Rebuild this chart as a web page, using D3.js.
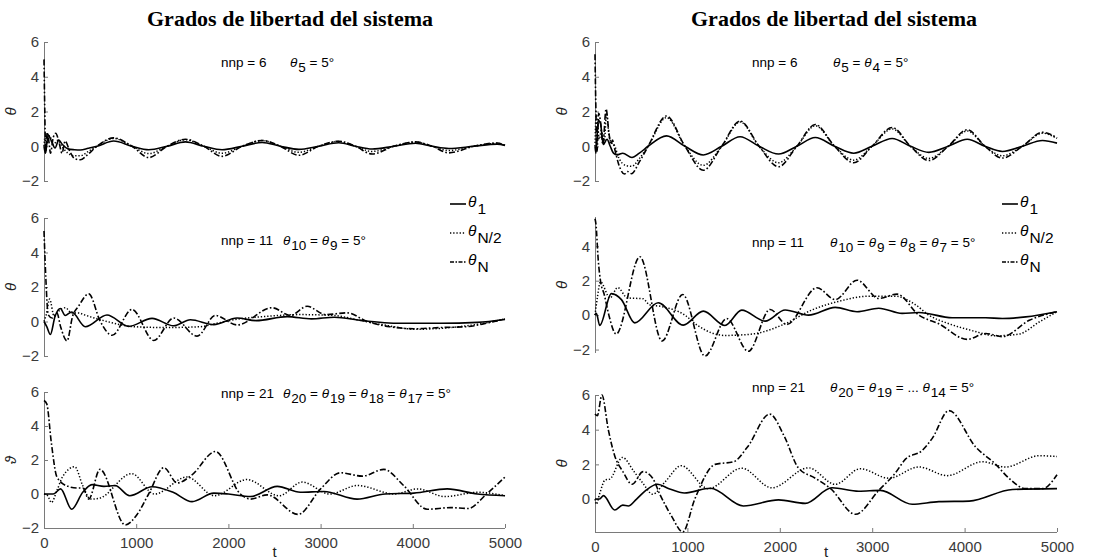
<!DOCTYPE html>
<html>
<head>
<meta charset="utf-8">
<script src="https://cdn.jsdelivr.net/npm/d3@7"></script>
<style>
  body { margin: 0; background: #fff; }
  svg { display: block; }
  text { white-space: pre; }
</style>
</head>
<body>
<div id="chart"></div>
<script>
// ---- data: [t, theta] pairs ----
const tTicks = [0, 1000, 2000, 3000, 4000, 5000];
const titleText = "Grados de libertad del sistema";
const legendLabels = ["1", "N/2", "N"];

// nnp = 6, theta5 = 5
const p1Theta1 = [[0,0],[15,-0.4],[45,0.65],[80,0.3],[120,-0.1],[160,0.35],[200,0.1],[260,-0.15],[330,-0.2],[394,-0.22],[480,-0.12],[575,0],[756,0.3],[955,0],[1136,-0.2],[1335,0],[1534,0.25],[1733,0],[1931,-0.2],[2148,0],[2366,0.22],[2564,0],[2763,-0.18],[2980,0],[3197,0.2],[3378,0],[3559,-0.16],[3794,0],[4029,0.17],[4210,0],[4391,-0.13],[4662,0],[4915,0.12],[5000,0.05]];
const p1ThetaHalf = [[0,0],[10,0.5],[30,0.15],[60,0.6],[100,0.1],[150,0.35],[200,-0.05],[260,-0.4],[330,-0.55],[394,-0.55],[480,-0.3],[575,0],[756,0.45],[955,0],[1136,-0.42],[1335,0],[1534,0.38],[1733,0],[1931,-0.4],[2148,0],[2366,0.33],[2564,0],[2763,-0.35],[2980,0],[3197,0.28],[3378,0],[3559,-0.3],[3794,0],[4029,0.24],[4210,0],[4391,-0.25],[4662,0],[4915,0.17],[5000,0.05]];
const p1ThetaN = [[0,5.0],[8,2.2],[18,-0.4],[35,0.8],[55,0.2],[70,-0.4],[100,0.5],[127,0.75],[160,0.3],[195,-0.4],[230,0.3],[280,-0.3],[333,-0.72],[394,-0.78],[470,-0.5],[575,0],[756,0.48],[955,0],[1136,-0.65],[1335,0],[1534,0.4],[1733,0],[1931,-0.58],[2148,0],[2366,0.33],[2564,0],[2763,-0.52],[2980,0],[3197,0.29],[3378,0],[3559,-0.45],[3794,0],[4029,0.25],[4210,0],[4391,-0.38],[4662,0],[4915,0.19],[5000,0.05]];

// nnp = 6, theta5 = theta4 = 5
const p2Theta1 = [[0,0],[10,-0.4],[35,1.5],[60,1.3],[90,0.1],[130,0.4],[165,0],[200,-0.4],[240,-0.5],[300,-0.4],[400,-0.65],[480,-0.4],[575,0],[774,0.6],[973,0],[1172,-0.5],[1371,0],[1570,0.55],[1776,0],[1986,-0.45],[2185,0],[2384,0.5],[2593,0],[2800,-0.4],[2998,0],[3216,0.45],[3414,0],[3613,-0.35],[3823,0],[4029,0.4],[4221,0],[4409,-0.3],[4626,0],[4843,0.33],[5000,0.18]];
const p2ThetaHalf = [[0,0],[12,1.8],[25,1.6],[45,0.4],[70,0.9],[100,0.2],[125,1.9],[150,0.7],[175,0.2],[205,0.1],[260,-0.7],[330,-1.1],[400,-1.15],[480,-0.7],[575,0],[774,1.65],[973,0],[1172,-1.1],[1371,0],[1570,1.4],[1776,0],[1986,-0.95],[2185,0],[2384,1.18],[2593,0],[2800,-0.8],[2998,0],[3216,1.0],[3414,0],[3613,-0.7],[3823,0],[4029,0.88],[4221,0],[4409,-0.55],[4626,0],[4843,0.75],[5000,0.45]];
const p2ThetaN = [[0,5.3],[10,2.0],[22,-0.3],[40,1.9],[60,1.4],[85,0.1],[120,2.15],[150,0.8],[172,0.1],[188,0.35],[215,-0.2],[260,-1.1],[320,-1.6],[350,-1.45],[395,-1.58],[480,-0.9],[575,0],[774,1.74],[973,0],[1172,-1.38],[1371,0],[1570,1.45],[1776,0],[1986,-1.18],[2185,0],[2384,1.25],[2593,0],[2800,-0.95],[2998,0],[3216,1.08],[3414,0],[3613,-0.82],[3823,0],[4029,0.95],[4221,0],[4409,-0.68],[4626,0],[4843,0.8],[5000,0.48]];

// nnp = 11, theta10 = theta9 = 5
const p3Theta1 = [[0,0],[30,-0.3],[69,-0.75],[120,0.3],[177,0.75],[230,0.35],[300,0.55],[448,-0.3],[683,0.38],[919,-0.28],[1172,0.18],[1407,-0.25],[1588,0.1],[1841,-0.18],[2094,0.2],[2300,0.05],[2637,0.28],[2900,0.15],[3150,0.25],[3450,0.05],[3866,-0.1],[4300,-0.1],[4700,-0.05],[5000,0.12]];
const p3ThetaHalf = [[0,0],[25,0.4],[61,1.3],[110,0.3],[160,0.6],[231,0.8],[300,0.5],[376,0.5],[430,0.4],[684,0],[973,-0.3],[1335,-0.35],[1696,-0.3],[1877,-0.1],[2058,0.1],[2420,0.3],[2781,0.4],[3143,0.35],[3396,0.1],[3686,-0.2],[4047,-0.45],[4409,-0.35],[4771,-0.1],[5000,0.15]];
const p3ThetaN = [[0,5.25],[20,2.5],[45,0.4],[90,0.2],[140,0.5],[180,-0.3],[250,-1.12],[310,0.3],[376,0.9],[485,1.6],[611,0],[738,-0.8],[955,0.7],[1190,-1.1],[1407,0.2],[1660,-0.85],[1859,0.35],[2094,-0.2],[2474,0.8],[2673,0.35],[2854,0.88],[3053,0.4],[3288,0.5],[3505,0],[3750,-0.3],[4011,-0.42],[4300,-0.35],[4590,-0.3],[4800,-0.1],[5000,0.15]];

// nnp = 11, theta10 = theta9 = theta8 = theta7 = 5
const p4Theta1 = [[0,0],[15,0.1],[51,-0.6],[177,1.25],[286,0.9],[430,-0.45],[684,0.72],[955,-0.58],[1172,0.23],[1407,-0.6],[1588,0.29],[1841,-0.35],[2058,0.3],[2311,0],[2600,0.45],[2836,0.2],[3071,0.4],[3324,0.1],[3505,0.15],[3866,-0.15],[4228,-0.15],[4409,-0.2],[4662,-0.1],[5000,0.2]];
const p4ThetaHalf = [[0,0],[25,1.0],[59,1.94],[161,1.0],[246,1.6],[350,1.0],[521,0.95],[590,0.6],[720,0.5],[973,0],[1110,-0.6],[1407,-1.18],[1700,-1.1],[2058,-0.5],[2347,0.3],[2637,0.8],[2962,1.1],[3252,1.1],[3469,0.6],[3613,0],[3830,-0.5],[4083,-0.9],[4337,-1.2],[4590,-1.1],[4807,-0.4],[5000,0.2]];
const p4ThetaN = [[0,5.6],[10,5.3],[35,3.2],[59,2.0],[100,1.2],[150,0],[229,-1.1],[486,3.39],[726,-1.5],[949,1.2],[1190,-2.38],[1425,-0.2],[1660,-2.1],[1895,0.33],[2076,-0.54],[2402,1.59],[2600,0.9],[2836,2.03],[3071,0.97],[3270,1.22],[3505,0],[3720,-0.5],[4029,-1.41],[4228,-1.07],[4409,-1.25],[4700,-0.3],[5000,0.2]];

// nnp = 21, theta20 = theta19 = theta18 = theta17 = 5
const p5Theta1 = [[0,0],[100,0],[180,0.3],[300,-0.9],[420,0.1],[520,0.55],[650,0.45],[770,0.5],[930,-0.1],[1172,0.43],[1400,0.1],[1606,-0.45],[1841,0.05],[2000,0],[2240,-0.15],[2530,0.45],[2780,0.1],[3035,0.15],[3396,-0.3],[3700,0],[4011,0.05],[4373,0.3],[4700,0],[5000,-0.1]];
const p5ThetaHalf = [[0,0],[40,-0.1],[80,-0.5],[140,0.2],[200,1.0],[333,1.6],[420,0.5],[505,-0.3],[600,-0.25],[950,1.2],[1200,0],[1550,1.0],[1850,-0.1],[2200,0.85],[2550,-0.1],[2800,0.7],[3100,0],[3400,0.5],[3800,0],[4050,0.3],[4350,-0.15],[4700,0.1],[5000,-0.1]];
const p5ThetaN = [[0,5.5],[30,5.3],[80,3.0],[140,1.0],[260,0.45],[363,0.35],[420,0.35],[485,-0.3],[607,1.45],[882,-1.82],[1010,-1.2],[1135,0],[1300,1.55],[1445,0.65],[1600,1.1],[1860,2.5],[2130,0],[2240,-0.3],[2420,-0.05],[2756,-1.2],[3000,0.3],[3216,1.25],[3451,1.05],[3686,1.45],[3900,0.5],[4156,-0.9],[4409,-0.8],[4600,-0.85],[4800,0],[5000,1.0]];

// nnp = 21, theta20 = theta19 = ... theta14 = 5
const p6Theta1 = [[0,0],[50,0],[92,0.2],[213,-0.63],[300,-0.35],[360,-0.4],[450,0],[550,0.5],[676,0.85],[800,0.6],[967,0.35],[1250,0.62],[1606,-0.4],[1986,-0.05],[2275,-0.25],[2564,0.65],[2854,0.45],[3089,0.5],[3433,-0.3],[3722,-0.15],[4050,-0.12],[4518,0.55],[5000,0.6]];
const p6ThetaHalf = [[0,0],[15,-0.3],[50,0.3],[110,1.1],[160,1.15],[298,2.4],[420,1.6],[520,0.9],[624,0.28],[760,1.0],[933,1.92],[1226,0.6],[1588,1.78],[1913,0.65],[2311,1.8],[2600,0.85],[2872,1.75],[3180,1.2],[3505,1.85],[3812,1.35],[4192,2.15],[4445,1.85],[4807,2.5],[5000,2.45]];
const p6ThetaN = [[0,4.9],[25,4.8],[75,6.0],[144,4.0],[213,2.5],[300,1.6],[401,0.85],[521,1.58],[624,1.2],[700,0.3],[830,-1.0],[950,-1.9],[1080,0],[1300,2.0],[1500,2.15],[1650,3.0],[1890,4.9],[2050,3.6],[2200,1.8],[2384,1.2],[2550,0.6],[2818,-0.88],[3071,0.5],[3250,1.5],[3360,2.3],[3541,2.8],[3650,3.5],[3830,5.1],[4120,3.0],[4337,2.0],[4480,1.2],[4662,0.6],[4843,0.6],[5000,1.4]];

// ---- layout ----
const W = 1102, H = 560;
const SANS = "'Liberation Sans', Arial, Helvetica, sans-serif";
const SERIF = "'Liberation Serif', 'Times New Roman', Times, serif";
const cols = [{ x0: 44, x1: 505, titleX: 290 }, { x0: 595, x1: 1057, titleX: 834 }];

const panels = [
  { col: 0, yRange: [181, 42], yDomain: [-2, 6], yTicks: [-2, 0, 2, 4, 6], nnp: "nnp = 6", expr: "θ_{5} = 5°", nnpX: 221, exprX: 290, textY: 67, series: [p1Theta1, p1ThetaHalf, p1ThetaN], title: true },
  { col: 1, yRange: [181, 42], yDomain: [-2, 6], yTicks: [-2, 0, 2, 4, 6], nnp: "nnp = 6", expr: "θ_{5} = θ_{4} = 5°", nnpX: 752, exprX: 833, textY: 67, series: [p2Theta1, p2ThetaHalf, p2ThetaN], title: true },
  { col: 0, yRange: [356, 218], yDomain: [-2, 6], yTicks: [-2, 0, 2, 4, 6], nnp: "nnp = 11", expr: "θ_{10} = θ_{9} = 5°", nnpX: 221, exprX: 283, textY: 245, series: [p3Theta1, p3ThetaHalf, p3ThetaN], legend: true },
  { col: 1, yRange: [353, 217], yDomain: [-2.2, 5.7], yTicks: [-2, 0, 2, 4], nnp: "nnp = 11", expr: "θ_{10} = θ_{9} = θ_{8} = θ_{7} = 5°", nnpX: 752, exprX: 830, textY: 247, series: [p4Theta1, p4ThetaHalf, p4ThetaN], legend: true },
  { col: 0, yRange: [528, 392], yDomain: [-2, 6], yTicks: [-2, 0, 2, 4, 6], nnp: "nnp = 21", expr: "θ_{20} = θ_{19} = θ_{18} = θ_{17} = 5°", nnpX: 221, exprX: 283, textY: 398, series: [p5Theta1, p5ThetaHalf, p5ThetaN], xAxis: true, yLabel: "ϑ" },
  { col: 1, yRange: [532, 395], yDomain: [-1.9, 6], yTicks: [0, 2, 4, 6], nnp: "nnp = 21", expr: "θ_{20} = θ_{19} = ... θ_{14} = 5°", nnpX: 752, exprX: 830, textY: 392, series: [p6Theta1, p6ThetaHalf, p6ThetaN], xAxis: true }
];

const lineStyles = [
  { dash: null, width: 1.6 },
  { dash: "1.3,1.9", width: 1.5 },
  { dash: "6,2.2,1.6,2.2", width: 1.6 }
];

const svg = d3.select("#chart").append("svg")
  .attr("width", W).attr("height", H);

// subscript text like "θ_{10} = 5°"
function richText(g, x, y, str, size, sub) {
  const txt = g.append("text").attr("x", x).attr("y", y)
    .attr("font-family", SANS)
    .attr("font-size", size).attr("fill", "#000");
  let shift = 0;
  str.split(/(θ_\{[^}]*\})/).forEach(part => {
    if (!part) return;
    const m = part.match(/^θ_\{([^}]*)\}$/);
    if (m) {
      txt.append("tspan").attr("dy", -shift).attr("font-style", "italic").text("θ");
      txt.append("tspan").attr("dy", sub).attr("dx", 1).text(m[1]);
      shift = sub;
    } else {
      txt.append("tspan").attr("dy", -shift).text(part);
      shift = 0;
    }
  });
  return txt;
}

panels.forEach(p => {
  const c = cols[p.col];
  const x = d3.scaleLinear().domain([0, 5000]).range([c.x0, c.x1]);
  const y = d3.scaleLinear().domain(p.yDomain).range(p.yRange);
  const g = svg.append("g");

  // y axis, ticks inward
  const yAx = g.append("g")
    .attr("transform", "translate(" + c.x0 + ",0)")
    .call(d3.axisRight(y).tickValues(p.yTicks).tickSize(4).tickFormat(d3.format("d")));
  yAx.select(".domain").attr("stroke", "#7a7a7a").attr("d", "M0.5," + p.yRange[0] + "V" + p.yRange[1]);
  yAx.selectAll(".tick line").attr("stroke", "#7a7a7a");
  yAx.selectAll(".tick text")
    .attr("x", -5).attr("text-anchor", "end")
    .attr("font-size", 15).attr("font-family", SANS)
    .attr("fill", "#3a3a3a");

  if (p.xAxis) {
    const xAx = g.append("g")
      .attr("transform", "translate(0," + p.yRange[0] + ")")
      .call(d3.axisTop(x).tickValues(tTicks).tickSize(4).tickFormat(d3.format("d")));
    xAx.select(".domain").attr("stroke", "#7a7a7a").attr("d", "M" + c.x0 + ",0.5H" + c.x1);
    xAx.selectAll(".tick line").attr("stroke", "#7a7a7a");
    xAx.selectAll(".tick text")
      .attr("y", 20).attr("dy", 0)
      .attr("font-size", 15).attr("font-family", SANS)
      .attr("fill", "#3a3a3a");
    g.append("text")
      .attr("x", (c.x0 + c.x1) / 2).attr("y", 557)
      .attr("text-anchor", "middle").attr("font-size", 15)
      .attr("font-family", SANS).attr("fill", "#222")
      .text("t");
  }

  // y label
  const yMid = (p.yRange[0] + p.yRange[1]) / 2;
  g.append("text")
    .attr("transform", "translate(" + (c.x0 - 28) + "," + yMid + ") rotate(-90)")
    .attr("text-anchor", "middle").attr("font-size", 15).attr("font-style", "italic")
    .attr("font-family", SANS).attr("fill", "#222")
    .text(p.yLabel || "θ");

  // curves
  const line = d3.line()
    .x(d => x(d[0])).y(d => y(d[1]))
    .curve(d3.curveMonotoneX);
  p.series.forEach((s, i) => {
    g.append("path")
      .datum(s)
      .attr("fill", "none")
      .attr("stroke", "#000")
      .attr("stroke-width", lineStyles[i].width)
      .attr("stroke-dasharray", lineStyles[i].dash)
      .attr("stroke-linejoin", "round")
      .attr("d", line);
  });

  // annotations
  g.append("text").attr("x", p.nnpX).attr("y", p.textY)
    .attr("font-family", SANS)
    .attr("font-size", 13.5).attr("fill", "#000").text(p.nnp);
  richText(g, p.exprX, p.textY, p.expr, 13.5, 5);

  if (p.title) {
    g.append("text")
      .attr("x", c.titleX).attr("y", 26)
      .attr("text-anchor", "middle")
      .attr("font-family", SERIF)
      .attr("font-weight", "bold").attr("font-size", 22)
      .text(titleText);
  }

  if (p.legend) {
    const lx = c.x1 - 55;
    const legendY = [204, 233, 262];
    legendLabels.forEach((lab, i) => {
      g.append("line")
        .attr("x1", lx).attr("x2", lx + 16)
        .attr("y1", legendY[i]).attr("y2", legendY[i])
        .attr("stroke", "#000")
        .attr("stroke-width", lineStyles[i].width)
        .attr("stroke-dasharray", i === 2 ? "4,1.5,1.5,1.5" : lineStyles[i].dash);
      richText(g, lx + 18, legendY[i] + 3, "θ_{" + lab + "}", 15.5, 7);
    });
  }
});
</script>
</body>
</html>
